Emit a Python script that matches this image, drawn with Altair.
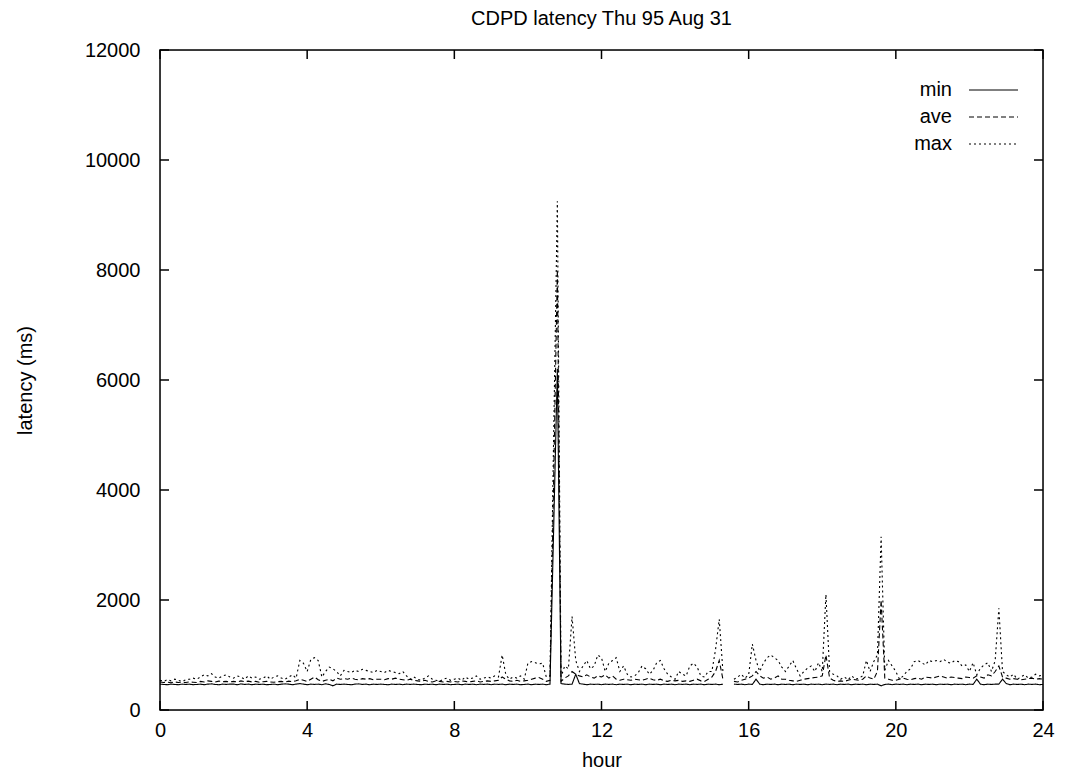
import altair as alt
import pandas as pd

# hour grid (every 0.1 h)
hours = [round(i * 0.1, 1) for i in range(241)]

min_ms = [
    470,465,460,470,465,460,470,465,470,460,
    465,470,460,470,475,465,460,470,465,470,
    470,460,475,465,470,460,470,465,470,460,
    465,470,460,470,475,470,460,470,480,470,
    460,470,465,470,460,475,465,440,470,465,
    470,465,460,470,475,465,470,460,470,465,
    470,465,460,470,465,470,460,470,465,470,
    465,460,470,465,470,460,470,465,470,460,
    465,470,460,470,465,470,460,470,465,470,
    460,470,465,470,460,470,465,470,460,465,
    470,460,470,465,470,460,470,3300,6200,480,
    470,465,470,650,480,470,460,470,465,470,
    460,470,465,470,460,470,465,470,460,470,
    465,470,460,470,465,470,460,470,465,470,
    460,470,465,470,460,470,465,470,460,470,
    465,470,460,470,None,None,470,465,470,460,
    470,465,560,470,460,470,465,470,460,470,
    465,470,460,470,465,470,460,470,465,470,
    460,470,465,470,460,470,465,470,460,470,
    465,470,460,470,465,470,440,465,470,460,
    470,465,470,460,470,465,470,460,470,465,
    470,460,470,465,470,460,470,465,470,460,
    470,465,560,470,460,470,465,470,470,560,
    480,460,470,465,470,460,470,465,470,460,
    465,
]

ave_ms = [
    510,500,505,495,510,500,505,500,510,505,
    500,520,510,530,520,510,525,515,520,510,
    520,510,530,515,525,510,520,505,515,520,
    510,505,515,520,510,525,515,530,560,540,
    520,560,600,550,520,540,560,530,580,560,
    570,560,580,560,550,570,560,570,550,560,
    560,550,570,560,580,560,550,540,560,540,
    530,520,540,520,510,530,520,510,520,510,
    520,510,530,520,510,520,530,510,520,530,
    520,530,540,600,560,530,520,540,520,530,
    540,560,580,590,560,520,540,4200,8000,520,
    580,620,700,650,620,600,640,600,580,620,
    600,640,580,620,560,540,560,550,540,560,
    550,540,560,580,550,540,560,530,520,540,
    530,540,520,530,520,540,560,530,520,560,
    600,700,900,560,None,None,520,510,540,560,
    580,620,700,620,580,600,560,580,620,560,
    560,540,530,520,540,560,570,580,590,600,
    620,1000,580,540,520,530,520,540,560,550,
    540,560,620,580,560,700,2000,580,560,540,
    540,560,580,560,550,570,580,560,600,590,
    580,600,620,600,580,600,590,580,570,600,
    590,580,620,600,580,640,620,700,800,600,
    580,560,570,560,550,560,570,580,560,570,
    560,
]

max_ms = [
    540,520,550,530,560,540,520,550,560,580,
    560,600,640,620,660,600,580,620,640,600,
    580,620,600,560,620,580,600,560,580,620,
    560,600,620,580,560,600,640,580,900,850,
    700,920,950,900,600,700,780,750,700,620,
    720,700,680,720,700,740,720,700,680,720,
    700,680,720,700,680,660,700,620,560,600,
    560,540,580,620,560,540,520,560,580,540,
    560,580,540,600,560,580,620,560,580,600,
    580,620,600,1000,640,560,600,580,620,560,
    850,880,860,840,850,600,620,5000,9250,600,
    800,750,1700,900,700,800,900,750,800,1000,
    950,700,850,900,950,700,800,650,600,620,
    680,800,750,650,720,860,900,750,650,600,
    560,700,650,620,800,850,780,620,600,700,
    700,1100,1650,700,None,None,560,600,650,580,
    640,1200,900,700,850,950,1000,950,900,780,
    700,800,900,750,620,700,760,800,700,860,
    700,2100,700,650,620,560,600,550,620,560,
    580,620,900,700,880,1000,3150,720,900,800,
    700,560,620,700,750,880,900,860,820,900,
    880,900,880,920,870,850,900,880,800,820,
    700,860,640,760,820,860,700,900,1850,700,
    640,600,650,560,600,640,580,600,650,620,
    640,
]

series_names = ["min", "ave", "max"]
dashes = [[1, 0], [5, 3], [2, 3]]
x_ticks = [0, 4, 8, 12, 16, 20, 24]
y_ticks = [0, 2000, 4000, 6000, 8000, 10000, 12000]
title_text = "CDPD latency Thu 95 Aug 31"

rows = []
for name, vals in zip(series_names, [min_ms, ave_ms, max_ms]):
    for h, v in zip(hours, vals):
        if v is None:
            continue
        rows.append({"hour": h, "latency": v, "series": name,
                     "seg": name + ("a" if h < 15.35 else "b")})
df = pd.DataFrame(rows)

W, H = 883, 660
FONT = "Liberation Sans"

xscale = alt.Scale(domain=[0, 24], nice=False, zero=False)
yscale = alt.Scale(domain=[0, 12000], nice=False)

xaxis = alt.Axis(values=x_ticks, ticks=False, domain=False, grid=False,
                 format="d", labelFlush=False,
                 labelFontSize=20, labelPadding=10, labelFont=FONT,
                 labelColor="black", title="hour", titleFont=FONT,
                 titleFontSize=20, titleFontWeight="normal",
                 titleColor="black", titlePadding=10)
yaxis = alt.Axis(values=y_ticks, ticks=False, domain=False, grid=False,
                 format="d", labelFlush=False,
                 labelFontSize=20, labelPadding=20, labelFont=FONT,
                 labelColor="black", title="latency (ms)", titleFont=FONT,
                 titleFontSize=20, titleFontWeight="normal",
                 titleColor="black", titleX=-135, titleY=330,
                 titleAngle=270, titleAlign="center", titleBaseline="middle")

lines = alt.Chart(df).mark_line(color="black", strokeWidth=1.1).encode(
    x=alt.X("hour:Q", scale=xscale, axis=xaxis),
    y=alt.Y("latency:Q", scale=yscale, axis=yaxis),
    strokeDash=alt.StrokeDash("series:N",
                              scale=alt.Scale(domain=series_names, range=dashes),
                              legend=None),
    detail="seg:N",
)

xt = pd.DataFrame({"t": x_ticks})
yt = pd.DataFrame({"t": y_ticks})
tk = dict(color="black", strokeWidth=1.5)
xtick_b = alt.Chart(xt).mark_rule(**tk).encode(
    x=alt.X("t:Q", scale=xscale, axis=xaxis), y=alt.value(H), y2=alt.value(H - 9))
xtick_t = alt.Chart(xt).mark_rule(**tk).encode(
    x=alt.X("t:Q", scale=xscale, axis=xaxis), y=alt.value(0), y2=alt.value(9))
ytick_l = alt.Chart(yt).mark_rule(**tk).encode(
    y=alt.Y("t:Q", scale=yscale, axis=yaxis), x=alt.value(0), x2=alt.value(9))
ytick_r = alt.Chart(yt).mark_rule(**tk).encode(
    y=alt.Y("t:Q", scale=yscale, axis=yaxis), x=alt.value(W - 9), x2=alt.value(W))

one = pd.DataFrame({"a": [0]})
frame = alt.Chart(one).mark_rect(fillOpacity=0, stroke="black", strokeWidth=1.5).encode(
    x=alt.value(0), x2=alt.value(W), y=alt.value(0), y2=alt.value(H))

legend_layers = []
for name, d, ypos in zip(series_names, dashes, [40, 67, 94]):
    legend_layers.append(
        alt.Chart(one).mark_text(text=name, align="right", baseline="middle",
                                 fontSize=20, font=FONT, color="black")
        .encode(x=alt.value(792), y=alt.value(ypos)))
    legend_layers.append(
        alt.Chart(one).mark_rule(color="black", strokeWidth=1, strokeDash=d)
        .encode(x=alt.value(809), x2=alt.value(858), y=alt.value(ypos)))

chart = alt.layer(lines, xtick_b, xtick_t, ytick_l, ytick_r, frame,
                  *legend_layers).properties(
    width=W, height=H,
    title=alt.TitleParams(title_text, fontSize=20, fontWeight="normal", font=FONT,
                          color="black", anchor="middle", offset=11),
    autosize=alt.AutoSizeParams(type="none"),
    padding={"left": 152, "top": 42, "right": 12, "bottom": 62},
).configure_view(stroke=None).configure(background="white")

chart.save("out.html", embed_options={"renderer": "svg", "actions": False})
